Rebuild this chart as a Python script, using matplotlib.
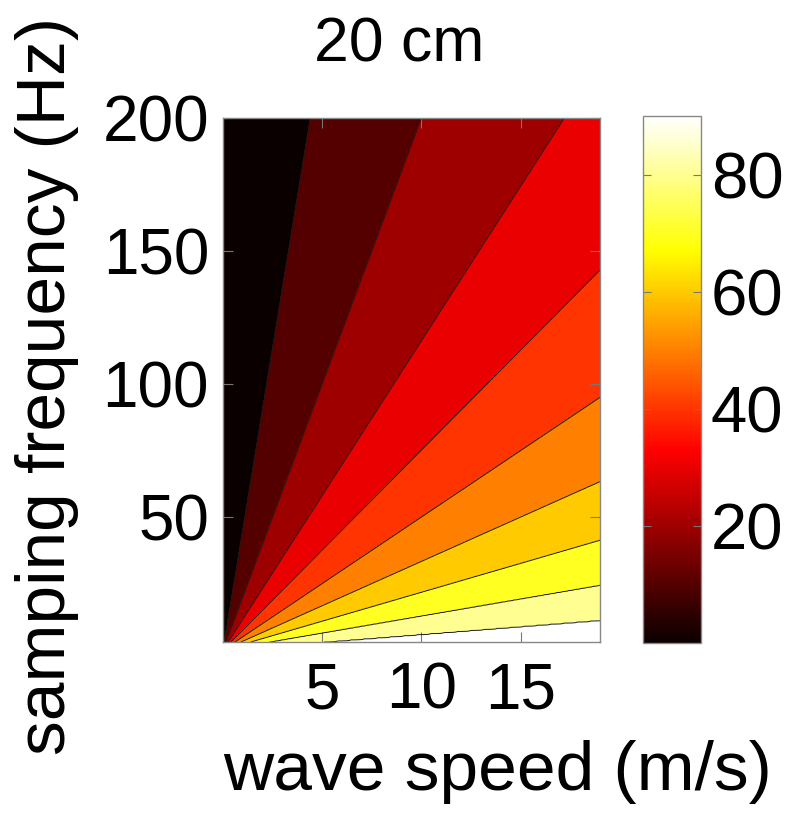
import numpy as np
import matplotlib
matplotlib.use("Agg")
import matplotlib.pyplot as plt
from matplotlib.colors import Normalize
from matplotlib.cm import ScalarMappable

# ---- data ----
title = "20 cm"
x_label = "wave speed (m/s)"
y_label = "samping frequency (Hz)"
wave_speed_range = [0.0, 19.0]          # m/s
sampling_freq_range = [3.0, 200.0]      # Hz
x_ticks = [5, 10, 15]
y_ticks = [50, 100, 150, 200]
cbar_ticks = [20, 40, 60, 80]
cbar_range = [0, 90]
# contour levels and the ratio v/fs (m) at which each boundary line runs
levels = [0, 10, 20, 30, 40, 50, 60, 70, 80, 90, 100]
boundary_ratio = [0.0, 0.022, 0.050, 0.086, 0.133, 0.200, 0.30, 0.46, 0.78, 1.7, 10.0]

plt.rcParams['font.family'] = ['Liberation Sans', 'DejaVu Sans']

fig = plt.figure(figsize=(8.04, 8.15), dpi=100)
ax = fig.add_axes([223/804, (815-642)/815, 377/804, 524/815])
cax = fig.add_axes([643/804, (815-643)/815, 58/804, 527/815])

v = np.linspace(wave_speed_range[0], wave_speed_range[1], 500)
fs = np.linspace(sampling_freq_range[0], sampling_freq_range[1], 500)
V, F = np.meshgrid(v, fs)
Z = np.interp(V / F, boundary_ratio, levels)

cmap = plt.get_cmap('hot')
norm = Normalize(vmin=cbar_range[0], vmax=cbar_range[1])
band_colors = [cmap(norm(l)) for l in levels[:-1]]

ax.contourf(V, F, Z, levels=levels, colors=band_colors)
ax.contour(V, F, Z, levels=levels[1:-1], colors='#1a1a1a', linewidths=0.7)

ax.set_xlim(wave_speed_range)
ax.set_ylim(sampling_freq_range)
ax.set_xticks(x_ticks)
ax.set_yticks(y_ticks)
ax.tick_params(direction='in', length=7, width=0.8, color='#777777',
               top=True, right=True, labelsize=46, pad=10)
ax.tick_params(axis='x', pad=14)
for s in ax.spines.values():
    s.set_color('#888888')
    s.set_linewidth(1.0)

ax.set_xlabel(x_label, fontsize=50, va='center', ha='center')
ax.xaxis.set_label_coords((497-223)/377, (642-772)/524)
ax.set_ylabel(y_label, fontsize=50, va='center', ha='center')
ax.yaxis.set_label_coords((47-223)/377, (642-386)/524)

fig.text(399/804, 1-45/815, title, ha='center', va='center', fontsize=45)

sm = ScalarMappable(norm=norm, cmap=cmap)
cb = fig.colorbar(sm, cax=cax, ticks=cbar_ticks)
cb.outline.set_edgecolor('#888888')
cb.outline.set_linewidth(1.0)
cax.tick_params(direction='in', length=6, width=0.8, color='#777777',
                left=True, right=True, labelsize=47, pad=7)

fig.savefig("out.png", dpi=100)
